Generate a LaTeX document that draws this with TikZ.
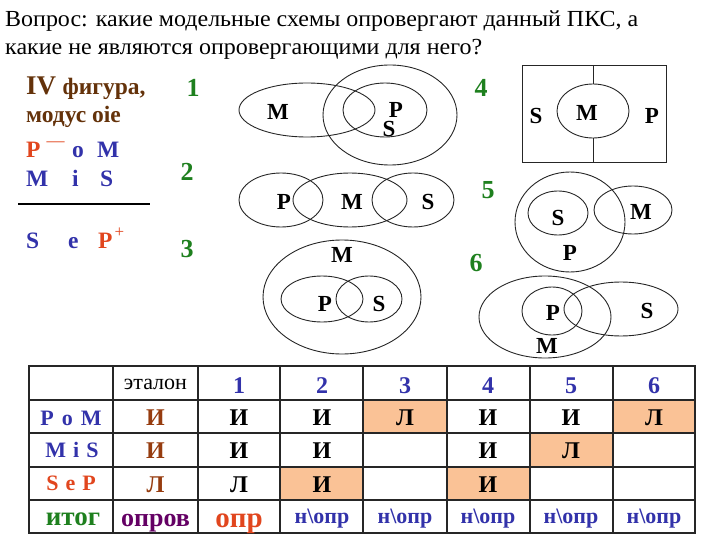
\documentclass[tikz,border=0pt]{standalone}
\usepackage{fontspec}
\setmainfont{Liberation Serif}
\usetikzlibrary{positioning}
\definecolor{zel}{RGB}{30,128,30}
\definecolor{sin}{RGB}{50,50,170}
\definecolor{kras}{RGB}{225,70,30}
\definecolor{kor}{RGB}{100,50,10}
\definecolor{etal}{RGB}{150,60,15}
\definecolor{fiol}{RGB}{100,0,100}
\definecolor{pers}{RGB}{250,194,150}
\tikzset{ krug/.style={ draw=black!85, line width=0.9pt}, bukva/.style={ inner sep=0pt, font=\fontsize{23}{23}\selectfont\bfseries}, nomer/.style={ inner sep=0pt, text=zel, font=\fontsize{26}{26}\selectfont\bfseries}, lev/.style={ inner sep=0pt, anchor=base west, font=\fontsize{23.5}{23.5}\selectfont\bfseries}, kletka/.style={ inner sep=0pt, anchor=base, font=\fontsize{24}{24}\selectfont\bfseries}, itog/.style={ inner sep=0pt, anchor=base, font=\fontsize{22}{22}\selectfont\bfseries}}

\begin{document}
\begin{tikzpicture}[x=1pt,y=-1pt]
    \useasboundingbox (0,0) rectangle (720,540);
    % question
    \node[anchor=base west, inner sep=0pt, font=\fontsize{23}{23}\selectfont]
      (vopros) at (5,27) {\resizebox{633pt}{\height}{Вопрос: какие модельные схемы опровергают данный ПКС, а}};
    \node[anchor=base west, inner sep=0pt, font=\fontsize{23}{23}\selectfont]
      (vopros2) at (5,55) {\resizebox{477pt}{\height}{какие не являются опровергающими для него?}};
    % syllogism on the left
    \node[lev, text=kor, font=\fontsize{27}{27}\selectfont\bfseries] (iv) at (26,95) {IV};
    \node[lev, text=kor, right=6pt of iv.base east, anchor=base west] (figura) {фигура,};
    \node[lev, text=kor] (modus) at (26,123) {модус oie};
    \node[lev, text=kras] (p1) at (26,158) {P\hspace{6pt}\raisebox{11pt}{\fontsize{18}{18}\selectfont\mdseries —}};
    \node[lev, text=sin] (o1) at (72,158) {o};
    \node[lev, text=sin] (m1) at (97,158) {M};
    \node[lev, text=sin] (m2) at (26,187) {M};
    \node[lev, text=sin] (i2) at (72,187) {i};
    \node[lev, text=sin] (s2) at (100,187) {S};
    \coordinate (cherta1) at (18,204);
    \coordinate (cherta2) at (150,204);
    \draw[line width=2.6pt] (cherta1) -- (cherta2);
    \node[lev, text=sin] (s3) at (26,248) {S};
    \node[lev, text=sin] (e3) at (68,248) {e};
    \node[lev, text=kras] (p3) at (98,248) {P\hspace{2pt}\raisebox{11pt}{\fontsize{17}{17}\selectfont\mdseries +}};
    % numbers of the schemes
    \node[nomer] (n1) at (193,88) {1};
    \node[nomer] (n2) at (187,172) {2};
    \node[nomer] (n3) at (187,249) {3};
    \node[nomer] (n4) at (481,88) {4};
    \node[nomer] (n5) at (488,190) {5};
    \node[nomer] (n6) at (476,263) {6};
    % scheme 1
    \draw[krug] (307,110) ellipse [x radius=68pt, y radius=27pt];
    \draw[krug] (390,115) ellipse [x radius=67pt, y radius=50pt];
    \draw[krug] (385,110) ellipse [x radius=42pt, y radius=27pt];
    \node[bukva] (m-1) at (278,112) {M};
    \node[bukva] (p-1) at (396,110) {P};
    \node[bukva] (s-1) at (389,129) {S};
    % scheme 2
    \draw[krug] (281,200) ellipse [x radius=42pt, y radius=27pt];
    \draw[krug] (350,200) ellipse [x radius=57pt, y radius=27pt];
    \draw[krug] (413,200) ellipse [x radius=41pt, y radius=27pt];
    \node[bukva] (p-2) at (284,202) {P};
    \node[bukva] (m-2) at (352,202) {M};
    \node[bukva] (s-2) at (428,202) {S};
    % scheme 3
    \draw[krug] (342,297) ellipse [x radius=79pt, y radius=57pt];
    \draw[krug] (322,299) ellipse [x radius=41pt, y radius=23pt];
    \draw[krug] (369,299) ellipse [x radius=33pt, y radius=23pt];
    \node[bukva] (m-3) at (342,255) {M};
    \node[bukva] (p-3) at (325,304) {P};
    \node[bukva] (s-3) at (379,304) {S};
    % scheme 4
    \draw[krug] (522,65) rectangle (666,162);
    \draw[krug] (593,111) ellipse [x radius=36pt, y radius=27pt];
    \draw[krug] (593,65) -- (593,84);
    \draw[krug] (593,138) -- (593,162);
    \node[bukva] (s-4) at (536,116) {S};
    \node[bukva] (m-4) at (587,113) {M};
    \node[bukva] (p-4) at (652,116) {P};
    % scheme 5
    \draw[krug] (570,222) ellipse [x radius=55pt, y radius=50pt];
    \draw[krug] (558,213) ellipse [x radius=30pt, y radius=22pt];
    \draw[krug] (633,210) ellipse [x radius=39pt, y radius=24pt];
    \node[bukva] (s-5) at (558,218) {S};
    \node[bukva] (m-5) at (641,212) {M};
    \node[bukva] (p-5) at (570,253) {P};
    % scheme 6
    \draw[krug] (545,317) ellipse [x radius=66pt, y radius=41pt];
    \draw[krug] (552,311) ellipse [x radius=30pt, y radius=24pt];
    \draw[krug] (621,309) ellipse [x radius=57pt, y radius=27pt];
    \node[bukva] (p-6) at (553,313) {P};
    \node[bukva] (s-6) at (647,311) {S};
    \node[bukva] (m-6) at (547,346) {M};
    % table: shaded cells
    \fill[pers] (363,400) rectangle (447,433);
    \fill[pers] (613,400) rectangle (695,433);
    \fill[pers] (530,433) rectangle (613,467);
    \fill[pers] (280,467) rectangle (363,500);
    \fill[pers] (447,467) rectangle (530,500);
    % table: lines
    \foreach \x in {113,198,280,363,447,530,613}
      \draw[line width=1.8pt, black!85] (\x,366) -- (\x,533);
    \foreach \y in {400,433,467,500}
      \draw[line width=1.8pt, black!85] (29,\y) -- (695,\y);
    \draw[line width=2.4pt, black!85] (29,366) rectangle (695,533);
    % table: head
    \node[inner sep=0pt, anchor=base, font=\fontsize{22}{22}\selectfont] (etalon) at (155.5,389) {эталон};
    \foreach \n in {1,...,6}
      \node[kletka, text=sin] (h\n) at ({239+83*(\n-1)},393) {\n};
    % table: rows
    \node[itog, text=sin] (r1) at (71,425) {P\hspace{8pt}o\hspace{8pt}M};
    \node[itog, text=sin] (r2) at (72,457) {M\hspace{7pt}i\hspace{7pt}S};
    \node[itog, text=kras] (r3) at (71,490) {S\hspace{7pt}e\hspace{7pt}P};
    \node[itog, text=zel, font=\fontsize{27}{27}\selectfont\bfseries] (r4) at (73,525) {итог};
    \foreach \v [count=\c] in {И,И,Л}
      \node[kletka, text=etal] (e\c) at (155.5,{425+33.5*(\c-1)}) {\v};
    \foreach \v [count=\c] in {И,И,Л,И,И,Л}
      \node[kletka] (a\c) at ({239+83*(\c-1)},425) {\v};
    \foreach \v [count=\c] in {И,И,{},И,Л,{}}
      \node[kletka] (b\c) at ({239+83*(\c-1)},458.5) {\v};
    \foreach \v [count=\c] in {Л,И,{},И,{},{}}
      \node[kletka] (d\c) at ({239+83*(\c-1)},492) {\v};
    % table: result
    \node[itog, text=fiol, font=\fontsize{26}{26}\selectfont\bfseries] (opr0) at (155.5,526) {опров};
    \node[itog, text=kras, font=\fontsize{29}{29}\selectfont\bfseries] (opr1) at (239,527) {опр};
    \foreach \c in {2,...,6}
      \node[itog, text=sin, font=\fontsize{22}{22}\selectfont\bfseries] (opr\c) at ({239+83*(\c-1)},523) {н\textbackslash опр};
\end{tikzpicture}
\end{document}
